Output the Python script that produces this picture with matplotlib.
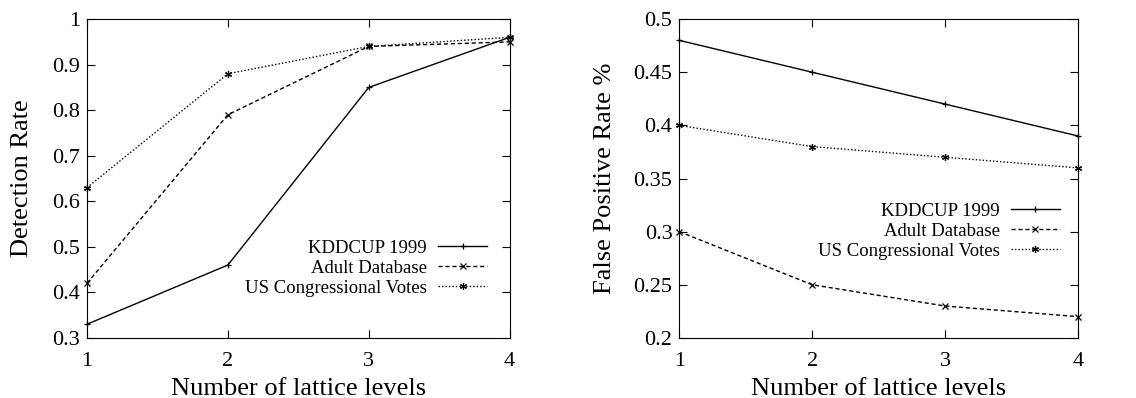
import matplotlib
matplotlib.use('Agg')
import matplotlib.pyplot as plt

plt.rcParams['font.family'] = 'Liberation Serif'

levels = [1, 2, 3, 4]
names = ['KDDCUP 1999', 'Adult Database', 'US Congressional Votes']

# detection rate
det_kdd = [0.33, 0.46, 0.85, 0.96]
det_adult = [0.42, 0.79, 0.94, 0.95]
det_us = [0.63, 0.88, 0.94, 0.96]

# false positive rate
fp_kdd = [0.48, 0.45, 0.42, 0.39]
fp_adult = [0.30, 0.25, 0.23, 0.22]
fp_us = [0.40, 0.38, 0.37, 0.36]

styles = [('-', '+'), ((0, (3, 2)), 'x'), ((0, (1, 1.5)), (6, 2, 0))]

fig = plt.figure(figsize=(11.36, 3.98), dpi=100)
ax1 = fig.add_axes([0.0766, 0.151, 0.372, 0.801])
ax2 = fig.add_axes([0.598, 0.151, 0.351, 0.801])

def panel(ax, series, ylim, yticks, yfmt, ylabel, legend_anchor):
    for ys, name, (ls, mk) in zip(series, names, styles):
        ax.plot(levels, ys, color='black', linestyle=ls, linewidth=1,
                marker=mk, markersize=5, markeredgewidth=0.9, label=name,
                clip_on=False)
    ax.set_xlim(1, 4)
    ax.set_ylim(*ylim)
    ax.set_xticks(levels)
    ax.set_yticks(yticks)
    ax.set_yticklabels([yfmt(v) for v in yticks])
    ax.tick_params(direction='in', top=True, right=True, labelsize=16,
                   length=6, width=0.8)
    ax.tick_params(axis='x', pad=10)
    ax.tick_params(axis='y', pad=5)
    ax.set_xlabel('Number of lattice levels', fontsize=19, labelpad=5)
    ax.set_ylabel(ylabel, fontsize=19)
    for s in ax.spines.values():
        s.set_linewidth(0.8)
    ax.legend(loc='center right', bbox_to_anchor=legend_anchor, frameon=False,
              markerfirst=False, fontsize=13.5, handlelength=2.6,
              labelspacing=0.15, handletextpad=0.6, borderaxespad=0)

panel(ax1, [det_kdd, det_adult, det_us], (0.3, 1.0),
      [0.3, 0.4, 0.5, 0.6, 0.7, 0.8, 0.9, 1.0],
      lambda v: '1' if v == 1.0 else '%g' % v,
      'Detection Rate', (0.964, 0.219))
ax1.yaxis.set_label_coords(-0.128, 0.5)

panel(ax2, [fp_kdd, fp_adult, fp_us], (0.2, 0.5),
      [0.2, 0.25, 0.3, 0.35, 0.4, 0.45, 0.5],
      lambda v: '%g' % v,
      'False Positive Rate %', (0.973, 0.335))
ax2.yaxis.set_label_coords(-0.160, 0.5)

fig.savefig('out.png', dpi=100)
